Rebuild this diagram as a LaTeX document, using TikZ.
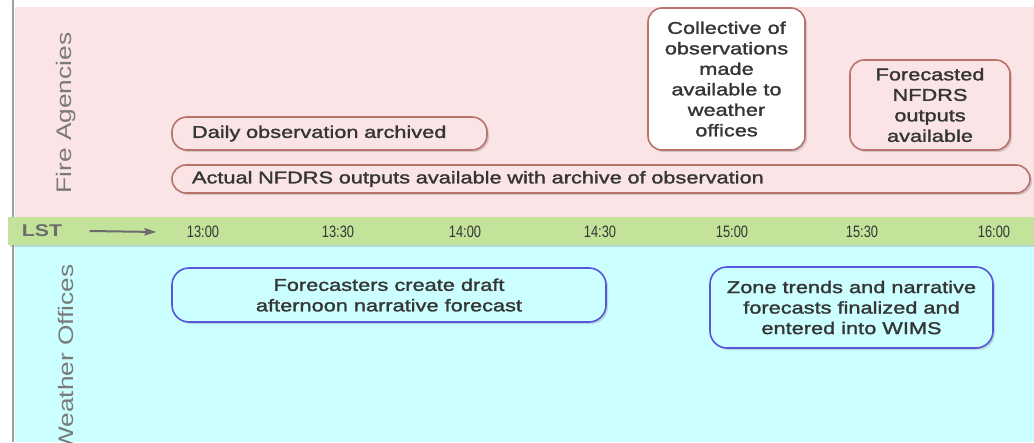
\documentclass[tikz,border=0pt]{standalone}
\usepackage{fontspec}
\setmainfont{Liberation Sans}
\newfontfamily\boxfont{Liberation Sans}[FakeStretch=1.28, FakeBold=1.6]
\newfontfamily\lanefont{Liberation Sans}[FakeStretch=1.25]
\newfontfamily\tickfont{Liberation Sans}[FakeStretch=0.78]
\usepackage{tikz}
\usetikzlibrary{arrows.meta,positioning,shadows}

\definecolor{firebg}{HTML}{FBE4E6}
\definecolor{fireedge}{HTML}{B8736B}
\definecolor{wxbg}{HTML}{CCFFFF}
\definecolor{wxedge}{HTML}{5656DC}
\definecolor{bandgreen}{HTML}{C3E39B}
\definecolor{boxtext}{HTML}{353535}
\definecolor{lanegray}{HTML}{7A7A7A}
\definecolor{linegray}{HTML}{A0A0A0}

\begin{document}
\begin{tikzpicture}[
  x=1pt, y=-1pt,
  shade/.style={drop shadow={opacity=0.3, shadow xshift=2pt, shadow yshift=-2pt}},
  firebox/.style={draw=fireedge, line width=1.6pt, rounded corners=14pt, fill=firebg,
                  text=boxtext, font=\boxfont\fontsize{17}{20.5}\selectfont,
                  align=center, inner sep=0pt, shade},
  wxbox/.style={firebox, draw=wxedge, fill=wxbg, rounded corners=17pt},
  lane/.style={rotate=90, text=lanegray, font=\lanefont\fontsize{21}{24}\selectfont},
  tick/.style={text=boxtext, font=\tickfont\fontsize{16.5}{18}\selectfont},
  arrow/.style={-{Stealth[length=4.2mm, width=2.6mm, inset=0.6mm]}, line width=2pt, draw=gray!85!black}
]
  \useasboundingbox (0,0) rectangle (1034,442);
  \fill[white] (0,0) rectangle (1034,442);

  % lanes
  \fill[firebg] (15,7) rectangle (1034,217);
  \fill[wxbg] (15,245) rectangle (1034,442);
  \draw[linegray, line width=2pt] (13,0) -- (13,442);
  \fill[bandgreen, shade] (8,217) rectangle (1034,245);

  \node[lane] (fire) at (66,113) {Fire Agencies};
  \node[lane] (weather) at (66,358) {Weather Offices};

  % time axis
  \node[text=gray!85!black, font=\lanefont\bfseries\fontsize{17}{20}\selectfont] (lst) at (42,231) {LST};
  \node[tick] (t1300) at (203,232) {13:00};
  \node[tick] (t1330) at (338,232) {13:30};
  \node[tick] (t1400) at (465,232) {14:00};
  \node[tick] (t1430) at (600,232) {14:30};
  \node[tick] (t1500) at (732,232) {15:00};
  \node[tick] (t1530) at (862,232) {15:30};
  \node[tick] (t1600) at (994,232) {16:00};
  \draw[arrow] ([xshift=24pt]lst.east) -- ([xshift=-27pt]t1300.west);

  % fire agency events
  \node[firebox, rounded corners=15pt, inner xsep=20pt, text width=275pt, align=left,
        minimum height=33pt] (daily) at (329.5,133.5) {Daily observation archived};
  \node[firebox, inner xsep=20pt, text width=818pt, align=left,
        minimum height=28pt] (actual) at (601,179)
        {Actual NFDRS outputs available with archive of observation};
  \node[firebox, fill=white, minimum width=157pt, minimum height=142pt] (collective) at (726.5,79)
        {Collective of\\observations\\made\\available to\\weather\\offices};
  \node[firebox, minimum width=160pt, minimum height=90pt] (forecasted) at (930,105)
        {Forecasted\\NFDRS\\outputs\\available};

  % weather office events
  \node[wxbox, minimum width=434pt, minimum height=54pt] (draft) at (389,295)
        {Forecasters create draft\\afternoon narrative forecast};
  \node[wxbox, minimum width=283pt, minimum height=81pt] (zone) at (851.5,307.5)
        {Zone trends and narrative\\forecasts finalized and\\entered into WIMS};
\end{tikzpicture}
\end{document}
